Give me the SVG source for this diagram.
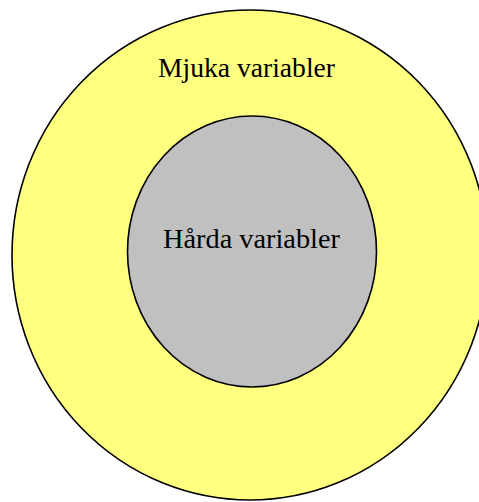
<svg xmlns="http://www.w3.org/2000/svg" width="479" height="502" viewBox="0 0 479 502">
<style>
.lbl{font-family:"Liberation Serif","Times New Roman",serif;font-size:27px;fill:#000}
.shape{stroke:#000;stroke-width:1.6}
</style>
<rect width="479" height="502" fill="#fff"/>
<g id="mjuka">
<ellipse class="shape" cx="250" cy="255" rx="238" ry="245" fill="#ffff80"/>
<text class="lbl" x="158" y="77" textLength="177" lengthAdjust="spacingAndGlyphs">Mjuka variabler</text>
</g>
<g id="harda">
<ellipse class="shape" cx="252" cy="251.5" rx="124.5" ry="135.5" fill="#c0c0c0"/>
<text class="lbl" x="163" y="248" textLength="177" lengthAdjust="spacingAndGlyphs">Hårda variabler</text>
</g>
<g id="connectors"/>
</svg>
